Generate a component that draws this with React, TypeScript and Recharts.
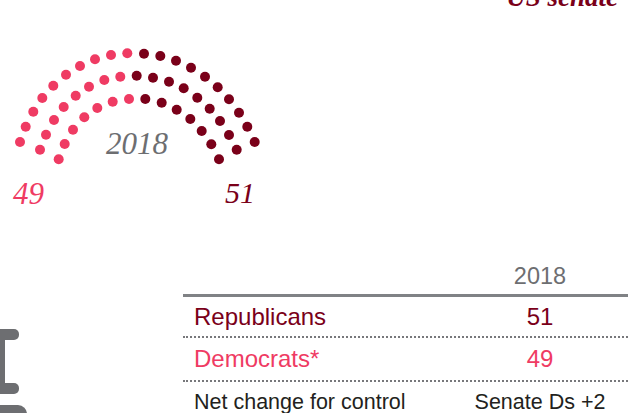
import { ScatterChart, Scatter, XAxis, YAxis } from 'recharts';

const PINK = '#ef3b63';
const MAROON = '#7a0019';
const GREY = '#6d6e71';

// seat dots, one dot stands for two seats
const demSeats = [
  [20, 142], [25.7, 126.7], [33.3, 111.7], [42.3, 98], [53.3, 85.7], [66, 74.7], [80, 66], [95, 59.3], [111, 55], [127.3, 53.3],
  [40, 149.7], [46, 134.7], [54, 120], [63.7, 107], [75.7, 95.7], [89, 86.7], [104.3, 80], [120.3, 76.7],
  [58.7, 159.3], [64.7, 144], [73, 129.7], [84.3, 117.3], [97.3, 108], [112.7, 101.7], [129, 99],
];
const repSeats = [
  [144, 53.7], [160.3, 56], [176, 60.7], [191, 67.7], [205, 76.7], [217.7, 87.3], [229, 99.3], [239, 112.7], [247.3, 126.7], [254.7, 142],
  [136.7, 75.7], [153, 77.7], [169, 81.7], [183.7, 88.3], [197.3, 97.7], [209.7, 108.7], [220, 121], [229, 135], [236.7, 149.7],
  [145.3, 99], [161.7, 102.7], [176.7, 109.7], [190.3, 119], [201.7, 131], [211.3, 144.3], [219, 159.3],
];

const demData = demSeats.map(([x, y]) => ({ x, y }));
const repData = repSeats.map(([x, y]) => ({ x, y }));

const columnYear = '2018';
const rowLabels = ['Republicans', 'Democrats*', 'Net change for control'];
const rowValues = ['51', '49', 'Senate Ds +2'];
const rowColors = [MAROON, PINK, '#231f20'];
const rowTops = [305, 347, 392];
const rowSizes = [24, 24, 21.5];

const seatDot = (color: string) => (props: any) => (
  <circle cx={props.cx} cy={props.cy} r={5} fill={color} />
);

const serifText = {
  position: 'absolute',
  fontFamily: '"Liberation Serif", serif',
  fontStyle: 'italic',
  whiteSpace: 'nowrap',
  lineHeight: 1,
} as const;

const sansText = {
  position: 'absolute',
  fontFamily: '"Liberation Sans", Arial, sans-serif',
  whiteSpace: 'nowrap',
  lineHeight: 1,
} as const;

const centered = { left: 452, width: 176, textAlign: 'center' } as const;

export default function App() {
  return (
    <div style={{ position: 'absolute', left: 0, top: 0, width: 634, height: 413, overflow: 'hidden', background: '#fff' }}>
      <ScatterChart width={634} height={413} margin={{ top: 0, right: 0, bottom: 0, left: 0 }}>
        <XAxis type="number" dataKey="x" domain={[0, 634]} hide />
        <YAxis type="number" dataKey="y" domain={[0, 413]} reversed hide />
        <Scatter data={demData} shape={seatDot(PINK)} isAnimationActive={false} />
        <Scatter data={repData} shape={seatDot(MAROON)} isAnimationActive={false} />
      </ScatterChart>

      <div style={{ ...serifText, right: 16, top: -16, fontSize: 27, fontWeight: 'bold', color: MAROON }}>US senate</div>
      <div style={{ ...serifText, left: 106, top: 128, fontSize: 31, color: GREY }}>2018</div>
      <div style={{ ...serifText, left: 13, top: 178, fontSize: 31, color: PINK }}>49</div>
      <div style={{ ...serifText, left: 225, top: 178, fontSize: 30, color: MAROON }}>51</div>

      <div style={{ ...sansText, ...centered, fontSize: 23.5, top: 265, color: GREY }}>{columnYear}</div>
      <div style={{ position: 'absolute', left: 183, top: 294, width: 445, height: 3, background: '#808285' }} />
      <div style={{ position: 'absolute', left: 183, top: 336, width: 445, borderTop: '2px dotted #77787b' }} />
      <div style={{ position: 'absolute', left: 183, top: 380, width: 445, borderTop: '2px dotted #77787b' }} />
      {rowLabels.map((label, i) => (
        <div key={label} style={{ ...sansText, left: 194, top: rowTops[i], color: rowColors[i], fontSize: rowSizes[i] }}>
          {label}
        </div>
      ))}
      {rowValues.map((value, i) => (
        <div key={value} style={{ ...sansText, ...centered, top: rowTops[i], color: rowColors[i], fontSize: rowSizes[i] }}>
          {value}
        </div>
      ))}

      {/* cut off logo at the left edge */}
      <div style={{ position: 'absolute', left: -12, top: 329, width: 31, height: 11, borderRadius: 5, background: GREY }} />
      <div style={{ position: 'absolute', left: 0, top: 335, width: 5, height: 54, background: GREY }} />
      <div style={{ position: 'absolute', left: -12, top: 383, width: 31, height: 11, borderRadius: 5, background: GREY }} />
      <div style={{ position: 'absolute', left: -12, top: 405, width: 39, height: 20, borderRadius: 9, background: GREY }} />
    </div>
  );
}
